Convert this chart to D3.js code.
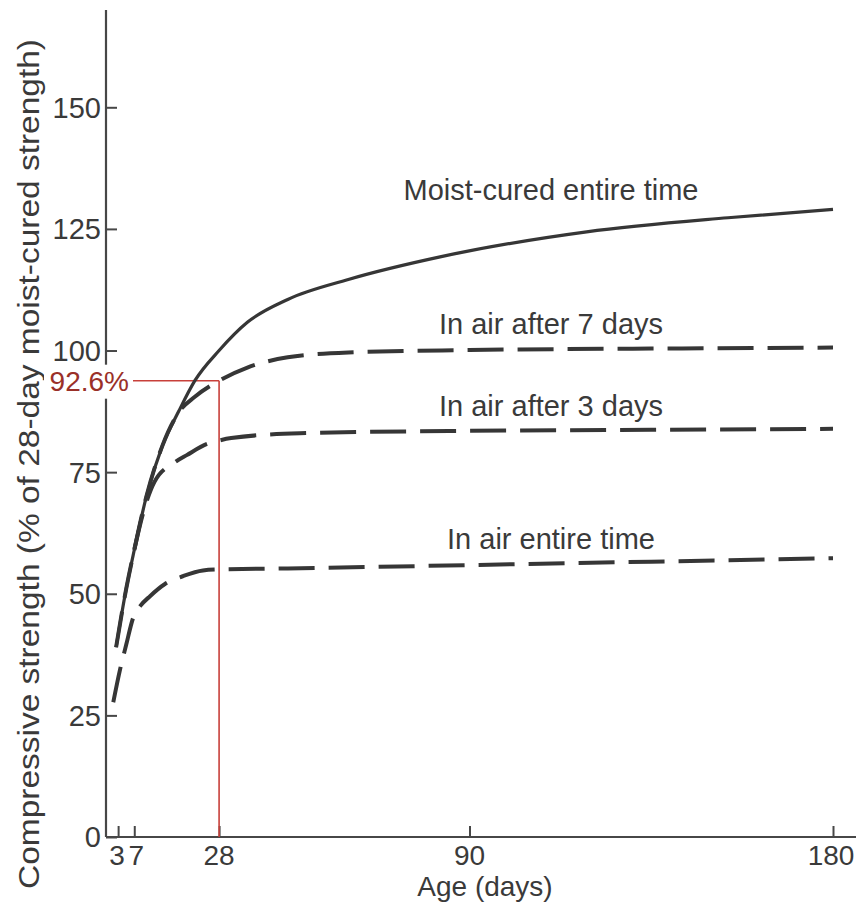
<!DOCTYPE html>
<html>
<head>
<meta charset="utf-8">
<script src="https://cdn.jsdelivr.net/npm/d3@7"></script>
<style>
  html, body { margin: 0; padding: 0; background: #fff; }
  svg { display: block; }
  text { font-family: "Liberation Sans", Arial, Helvetica, sans-serif; fill: #3a3a3a; }
</style>
</head>
<body>
<svg id="chart" width="858" height="913"></svg>
<script>
// ---- data ----
const xTicks = [3, 7, 28, 90, 180];
const yTicks = [0, 25, 50, 75, 100, 125, 150];

const moistDays   = [2.5, 5, 7, 10, 14, 18, 22, 28, 35, 45, 60, 83, 119, 154, 180];
const moistValues = [39, 51, 59, 70, 80.5, 87.5, 93.8, 100, 105.8, 110.5, 114.6, 119.3, 124.4, 127.3, 129];

const air7Days    = [7, 10, 14, 18, 22, 28, 35, 45, 60, 90, 135, 180];
const air7Values  = [59, 70, 80.5, 87.3, 90.5, 93.8, 96.5, 98.6, 99.6, 100.1, 100.4, 100.6];

const air3Days    = [2.5, 5, 7, 9, 12, 17, 20, 25, 28, 31, 48, 90, 135, 180];
const air3Values  = [39, 51, 59, 66, 73, 77, 78.5, 80.8, 81.5, 82, 83, 83.5, 83.7, 83.9];

const airDays     = [1.8, 3.5, 5, 6.7, 8.5, 10.9, 14.6, 19, 24, 28, 45, 90, 135, 180];
const airValues   = [27.7, 34.5, 39.5, 45, 47.5, 49.5, 52, 53.6, 54.8, 55, 55.2, 55.9, 56.6, 57.3];

const seriesNames = ["Moist-cured entire time", "In air after 7 days", "In air after 3 days", "In air entire time"];
const seriesLabelValues = [131, 103.5, 86.5, 59.3];   // label baseline heights, in % units

const refDay = 28;
const refValue = 93.8;        // where the reference line is drawn in the picture
const refLabel = "92.6%";

// ---- layout ----
const svg = d3.select("#chart");
const x = d3.scaleLinear().domain([0, 180]).range([106, 833]);
const y = d3.scaleLinear().domain([0, 170]).range([837, 10]);

const ink = "#363636";
const axisInk = "#474747";
const red = "#c8403a";

// axes lines
svg.append("line").attr("x1", x(0)).attr("x2", 856).attr("y1", y(0)).attr("y2", y(0))
  .attr("stroke", axisInk).attr("stroke-width", 2.2);
svg.append("line").attr("x1", x(0)).attr("x2", x(0)).attr("y1", y(0)).attr("y2", y(170))
  .attr("stroke", axisInk).attr("stroke-width", 2.2);

// y axis ticks + labels
const yAxis = d3.axisRight(y).tickValues(yTicks).tickSize(11).tickFormat("");
const gy = svg.append("g").attr("transform", `translate(${x(0)},0)`).call(yAxis);
gy.select(".domain").remove();
gy.selectAll(".tick line").attr("stroke", axisInk).attr("stroke-width", 2);
svg.append("g").selectAll("text").data(yTicks).join("text")
  .attr("x", 101).attr("y", d => y(d)).attr("dy", "0.36em")
  .attr("text-anchor", "end").attr("font-size", 29).text(d => d);

// x axis ticks + labels
const xAxis = d3.axisTop(x).tickValues(xTicks).tickSize(11).tickFormat("");
const gx = svg.append("g").attr("transform", `translate(0,${y(0)})`).call(xAxis);
gx.select(".domain").remove();
gx.selectAll(".tick line").attr("stroke", axisInk).attr("stroke-width", 2);
svg.append("g").selectAll("text").data(xTicks).join("text")
  .attr("x", d => x(d) + (d === 3 ? -1 : d === 7 ? 2 : d === 180 ? -2 : 0)).attr("y", 865)
  .attr("text-anchor", "middle").attr("font-size", 28).text(d => d);

// axis titles
svg.append("text").attr("x", 485).attr("y", 896).attr("text-anchor", "middle")
  .attr("font-size", 28).text("Age (days)");
svg.append("text").attr("transform", "translate(39,464) rotate(-90)")
  .attr("text-anchor", "middle").attr("font-size", 29)
  .attr("textLength", 850).attr("lengthAdjust", "spacingAndGlyphs")
  .text("Compressive strength (% of 28-day moist-cured strength)");

// reference lines (red)
svg.append("line").attr("x1", x(refDay)).attr("x2", x(refDay)).attr("y1", y(refValue)).attr("y2", y(0))
  .attr("stroke", red).attr("stroke-width", 1.6);
svg.append("line").attr("x1", 133).attr("x2", x(refDay)).attr("y1", y(refValue)).attr("y2", y(refValue))
  .attr("stroke", red).attr("stroke-width", 1.6);
svg.append("rect").attr("x", 44).attr("y", y(refValue) - 16).attr("width", 88).attr("height", 34)
  .attr("fill", "#fff");
svg.append("text").attr("x", 129).attr("y", y(refValue)).attr("dy", "0.38em")
  .attr("text-anchor", "end").attr("font-size", 28).style("fill", "#9a3028").text(refLabel);

// curves
const line = d3.line().x(d => x(d[0])).y(d => y(d[1])).curve(d3.curveMonotoneX);
const series = [
  { days: moistDays, vals: moistValues, dash: null, w: 3.2 },
  { days: air7Days,  vals: air7Values,  dash: "36,14", w: 4 },
  { days: air3Days,  vals: air3Values,  dash: "36,14", w: 4 },
  { days: airDays,   vals: airValues,   dash: "36,14", w: 4 }
];
series.forEach(s => {
  const pts = s.days.map((d, i) => [d, s.vals[i]]);
  svg.append("path").datum(pts).attr("d", line)
    .attr("fill", "none").attr("stroke", ink).attr("stroke-width", s.w)
    .attr("stroke-dasharray", s.dash);
});

// series labels
svg.append("g").selectAll("text").data(seriesNames).join("text")
  .attr("x", 551).attr("y", (d, i) => y(seriesLabelValues[i]))
  .attr("text-anchor", "middle").attr("font-size", 29).text(d => d);
</script>
</body>
</html>
